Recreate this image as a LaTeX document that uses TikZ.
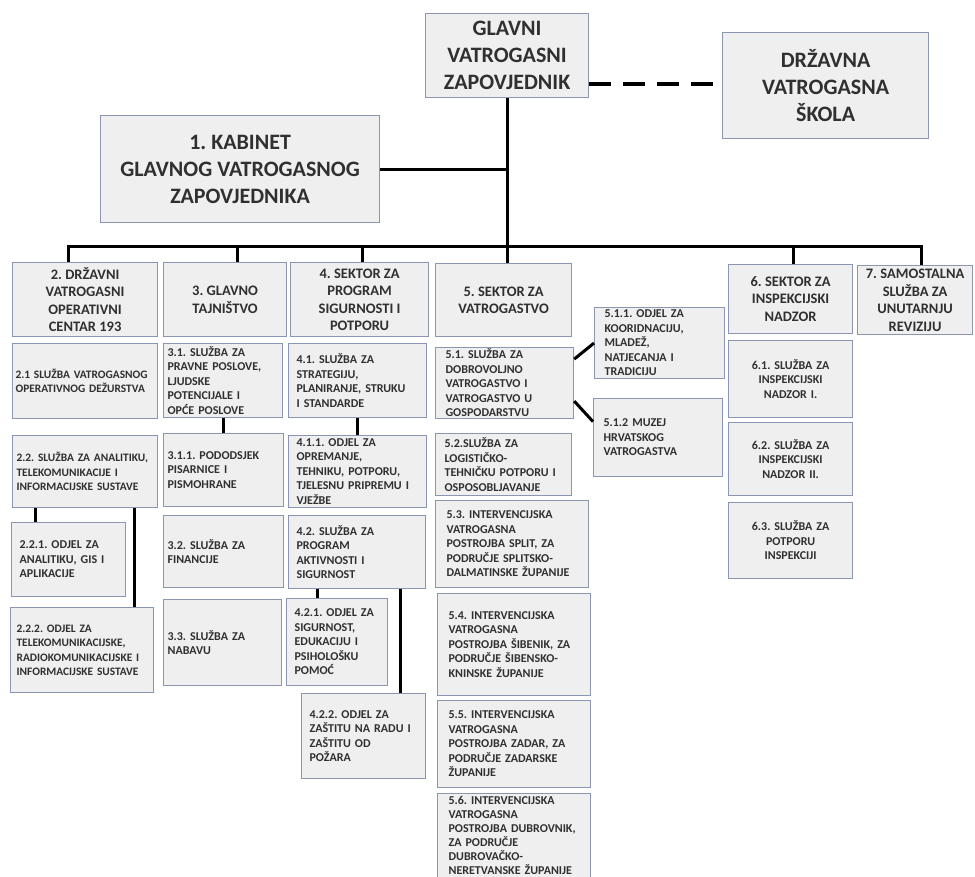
\documentclass[tikz,border=0pt]{standalone}
\usepackage{fontspec}
\setmainfont{Carlito}
\usetikzlibrary{calc}
\definecolor{boxfill}{RGB}{239,239,239}
\definecolor{boxedge}{RGB}{138,150,178}
\definecolor{txt}{RGB}{48,48,48}
\frenchspacing

\begin{document}
\begin{tikzpicture}[x=1pt,y=-1pt,
    box/.style={rectangle,draw=boxedge,fill=boxfill,line width=1.2pt,inner ysep=0pt,text=txt,anchor=north west},
    top/.style={box,align=center,font=\fontsize{22}{27}\selectfont\bfseries},
    head/.style={box,align=center,font=\fontsize{14.5}{17.5}\selectfont\bfseries},
    unit/.style={box,align=left,inner xsep=8pt,font=\fontsize{12}{14.5}\selectfont\bfseries},
    unitc/.style={unit,align=center},
    narrow/.style={font=\fontsize{11.4}{14.5}\selectfont\bfseries},
    conn/.style={line width=3pt},
    link/.style={line width=4pt,dash pattern=on 22pt off 12pt}]
    \useasboundingbox (0,0) rectangle (975,877);

    % top level
    \node[top,minimum width=163pt,minimum height=84pt] (GVZ) at (425,13) {GLAVNI\\VATROGASNI\\ZAPOVJEDNIK};
    \node[top,minimum width=206pt,minimum height=106pt] (DVS) at (722,32) {DRŽAVNA\\VATROGASNA\\ŠKOLA};
    \node[top,minimum width=279pt,minimum height=107pt] (KAB) at (100,115) {1. KABINET\\GLAVNOG VATROGASNOG\\ZAPOVJEDNIKA};

    % sectors
    \node[head,minimum width=145pt,minimum height=74pt] (S2) at (12,262) {2. DRŽAVNI\\VATROGASNI\\OPERATIVNI\\CENTAR 193};
    \node[head,minimum width=123pt,minimum height=74pt] (S3) at (163,262) {3. GLAVNO\\TAJNIŠTVO};
    \node[head,minimum width=138pt,minimum height=74pt] (S4) at (290,262) {4. SEKTOR ZA\\PROGRAM\\SIGURNOSTI I\\POTPORU};
    \node[head,minimum width=136pt,minimum height=73pt] (S5) at (435,263) {5. SEKTOR ZA\\VATROGASTVO};
    \node[head,minimum width=124pt,minimum height=69pt] (S6) at (728,264) {6. SEKTOR ZA\\INSPEKCIJSKI\\NADZOR};
    \node[head,minimum width=115pt,minimum height=69pt] (S7) at (857,265) {7. SAMOSTALNA\\SLUŽBA ZA\\UNUTARNJU\\REVIZIJU};

    % column 2
    \node[unit,narrow,inner xsep=3pt,text width=139pt,minimum width=145pt,minimum height=75pt] (U21) at (12,343) {2.1 SLUŽBA VATROGASNOG\\OPERATIVNOG DEŽURSTVA};
    \node[unit,narrow,inner xsep=4pt,text width=137pt,minimum width=145pt,minimum height=72pt] (U22) at (12,435) {2.2. SLUŽBA ZA ANALITIKU,\\TELEKOMUNIKACIJE I\\INFORMACIJSKE SUSTAVE};
    \node[unit,text width=98pt,minimum width=114pt,minimum height=74pt] (U221) at (11,522) {2.2.1. ODJEL ZA\\ANALITIKU, GIS I\\APLIKACIJE};
    \node[unit,narrow,inner xsep=6pt,text width=131pt,minimum width=143pt,minimum height=85pt] (U222) at (10,607) {2.2.2. ODJEL ZA\\TELEKOMUNIKACIJSKE,\\RADIOKOMUNIKACIJSKE I\\INFORMACIJSKE SUSTAVE};

    % column 3
    \node[unit,inner xsep=4pt,text width=111pt,minimum width=119pt,minimum height=74pt] (U31) at (163,343) {3.1. SLUŽBA ZA\\PRAVNE POSLOVE,\\LJUDSKE\\POTENCIJALE I\\OPĆE POSLOVE};
    \node[unit,inner xsep=4pt,text width=112pt,minimum width=120pt,minimum height=73pt] (U311) at (163,433) {3.1.1. PODODSJEK\\PISARNICE I\\PISMOHRANE};
    \node[unit,inner xsep=4pt,text width=112pt,minimum width=120pt,minimum height=72pt] (U32) at (163,515) {3.2. SLUŽBA ZA\\FINANCIJE};
    \node[unit,inner xsep=4pt,text width=110pt,minimum width=118pt,minimum height=86pt] (U33) at (163,599) {3.3. SLUŽBA ZA\\NABAVU};

    % column 4
    \node[unit,text width=122pt,minimum width=138pt,minimum height=74pt] (U41) at (288,343) {4.1. SLUŽBA ZA\\STRATEGIJU,\\PLANIRANJE, STRUKU\\I STANDARDE};
    \node[unit,text width=122pt,minimum width=138pt,minimum height=72pt] (U411) at (288,435) {4.1.1. ODJEL ZA\\OPREMANJE,\\TEHNIKU, POTPORU,\\TJELESNU PRIPREMU I\\VJEŽBE};
    \node[unit,text width=121pt,minimum width=137pt,minimum height=73pt] (U42) at (288,515) {4.2. SLUŽBA ZA\\PROGRAM\\AKTIVNOSTI I\\SIGURNOST};
    \node[unit,text width=85pt,minimum width=101pt,minimum height=87pt] (U421) at (286,598) {4.2.1. ODJEL ZA\\SIGURNOST,\\EDUKACIJU I\\PSIHOLOŠKU\\POMOĆ};
    \node[unit,text width=108pt,minimum width=124pt,minimum height=85pt] (U422) at (301,693) {4.2.2. ODJEL ZA\\ZAŠTITU NA RADU I\\ZAŠTITU OD\\POŽARA};

    % column 5
    \node[unit,inner xsep=10pt,text width=118pt,minimum width=138pt,minimum height=71pt] (U51) at (435,347) {5.1. SLUŽBA ZA\\DOBROVOLJNO\\VATROGASTVO I\\VATROGASTVO U\\GOSPODARSTVU};
    \node[unit,inner xsep=10pt,text width=110pt,minimum width=130pt,minimum height=71pt] (U511) at (594,307) {5.1.1. ODJEL ZA\\KOORIDNACIJU,\\MLADEŽ,\\NATJECANJA I\\TRADICIJU};
    \node[unit,inner xsep=10pt,text width=109pt,minimum width=129pt,minimum height=78pt] (U512) at (593,398) {5.1.2 MUZEJ\\HRVATSKOG\\VATROGASTVA};
    \node[unit,inner xsep=9pt,text width=118pt,minimum width=136pt,minimum height=62pt] (U52) at (435,433) {5.2.SLUŽBA ZA\\LOGISTIČKO-\\TEHNIČKU POTPORU I\\OSPOSOBLJAVANJE};
    \node[unit,inner xsep=11pt,text width=131pt,minimum width=153pt,minimum height=87pt] (U53) at (435,500) {5.3. INTERVENCIJSKA\\VATROGASNA\\POSTROJBA SPLIT, ZA\\PODRUČJE SPLITSKO-\\DALMATINSKE ŽUPANIJE};
    \node[unit,inner xsep=11pt,text width=131pt,minimum width=153pt,minimum height=102pt] (U54) at (437,593) {5.4. INTERVENCIJSKA\\VATROGASNA\\POSTROJBA ŠIBENIK, ZA\\PODRUČJE ŠIBENSKO-\\KNINSKE ŽUPANIJE};
    \node[unit,inner xsep=11pt,text width=131pt,minimum width=153pt,minimum height=87pt] (U55) at (437,700) {5.5. INTERVENCIJSKA\\VATROGASNA\\POSTROJBA ZADAR, ZA\\PODRUČJE ZADARSKE\\ŽUPANIJE};
    \node[unit,inner xsep=11pt,text width=131pt,minimum width=153pt,minimum height=84pt,font=\fontsize{12}{14}\selectfont\bfseries] (U56) at (437,793) {5.6. INTERVENCIJSKA\\VATROGASNA\\POSTROJBA DUBROVNIK,\\ZA PODRUČJE\\DUBROVAČKO-\\NERETVANSKE ŽUPANIJE};

    % column 6
    \node[unitc,text width=108pt,minimum width=124pt,minimum height=77pt] (U61) at (728,340) {6.1. SLUŽBA ZA\\INSPEKCIJSKI\\NADZOR I.};
    \node[unitc,text width=108pt,minimum width=124pt,minimum height=73pt] (U62) at (728,422) {6.2. SLUŽBA ZA\\INSPEKCIJSKI\\NADZOR II.};
    \node[unitc,text width=108pt,minimum width=124pt,minimum height=76pt] (U63) at (728,502) {6.3. SLUŽBA ZA\\POTPORU\\INSPEKCIJI};

    % connectors
    \draw[link] ([yshift=-28pt]GVZ.east) -- ([yshift=-28pt]GVZ.east -| DVS.west);
    \draw[conn] (GVZ.south) -- (GVZ.south |- S5.north);
    \draw[conn] (KAB.east) -- (KAB.east -| GVZ.south);
    \coordinate (d2) at (68,247);
    \coordinate (d3) at (237,247);
    \coordinate (d4) at (362,247);
    \coordinate (d6) at (793,247);
    \coordinate (d7) at (921,247);
    \draw[conn,line cap=rect] (d2) -- (d7);
    \foreach \d/\s in {d2/S2,d3/S3,d4/S4,d6/S6,d7/S7}
      \draw[conn] (\d) -- (\d |- \s.north);

    \draw[conn] ([xshift=-33pt]U221.north) -- ([xshift=-33pt]U221.north |- U22.south);
    \draw[conn] ([xshift=52pt]U222.north) -- ([xshift=52pt]U222.north |- U22.south);
    \draw[conn] (U311.north) -- (U311.north |- U31.south);
    \draw[conn] (U411.north) -- (U411.north |- U41.south);
    \draw[conn] ([xshift=-20pt]U421.north) -- ([xshift=-20pt]U421.north |- U42.south);
    \draw[conn] ([xshift=37pt]U422.north) -- ([xshift=37pt]U422.north |- U42.south);
    \draw[conn] ([yshift=24pt]U51.east) -- (U511.west);
    \draw[conn] ([yshift=-18pt]U51.east) -- ([yshift=16pt]U512.west);
  \end{tikzpicture}
\end{document}
